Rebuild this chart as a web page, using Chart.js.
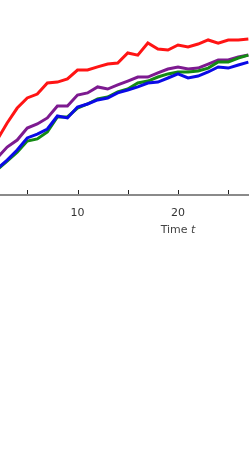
<!DOCTYPE html>
<html>
<head>
<meta charset="utf-8">
<script src="https://cdn.jsdelivr.net/npm/chart.js@4/dist/chart.umd.min.js"></script>
<style>
  html, body { margin: 0; padding: 0; background: #fff; overflow: hidden; }
  #wrap { position: absolute; left: -23px; top: 0; }
</style>
</head>
<body>
<div id="wrap"><canvas id="timeChart" width="402" height="250"></canvas></div>
<script>
// time steps
const times = [2, 3, 4, 5, 6, 7, 8, 9, 10, 11, 12, 13, 14, 15, 16, 17, 18, 19, 20, 21, 22, 23, 24, 25, 26, 27];

// series
const redSeries = [0.278, 0.366, 0.443, 0.495, 0.515, 0.572, 0.577, 0.593, 0.639, 0.639, 0.655, 0.670, 0.675,
    0.727, 0.716, 0.778, 0.747, 0.742, 0.768, 0.758, 0.773, 0.794, 0.778, 0.794, 0.794, 0.799];
const purpleSeries = [0.186, 0.242, 0.278, 0.340, 0.361, 0.392, 0.454, 0.454, 0.510, 0.521, 0.552, 0.541, 0.562,
    0.582, 0.603, 0.603, 0.624, 0.644, 0.655, 0.644, 0.649, 0.670, 0.691, 0.691, 0.706, 0.716];
const greenSeries = [0.124, 0.170, 0.216, 0.273, 0.284, 0.320, 0.397, 0.397, 0.443, 0.464, 0.490, 0.500, 0.526,
    0.541, 0.572, 0.582, 0.603, 0.619, 0.629, 0.629, 0.634, 0.649, 0.680, 0.680, 0.701, 0.716];
const blueSeries = [0.129, 0.175, 0.227, 0.289, 0.309, 0.335, 0.402, 0.392, 0.448, 0.464, 0.485, 0.495, 0.521,
    0.536, 0.552, 0.572, 0.577, 0.598, 0.619, 0.598, 0.608, 0.629, 0.655, 0.649, 0.665, 0.680];

// axis labels
const labeledTicks = [10, 20, 30];
const axisTitle = 'Time ';
const axisVar = 't';

function toPoints(ys) {
    return times.map((t, i) => ({ x: t, y: ys[i] }));
}

// axis line, short inner tick marks and the "Time t" title
const axisDecor = {
    id: 'axisDecor',
    afterDraw(chart) {
        const ctx = chart.ctx;
        const xs = chart.scales.x;
        const area = chart.chartArea;
        ctx.save();
        ctx.strokeStyle = '#8a8a8a';
        ctx.lineWidth = 2;
        ctx.beginPath();
        ctx.moveTo(area.left, area.bottom + 1);
        ctx.lineTo(area.right, area.bottom + 1);
        ctx.stroke();

        ctx.strokeStyle = '#222';
        ctx.lineWidth = 1;
        xs.ticks.forEach(tk => {
            const px = Math.round(xs.getPixelForValue(tk.value)) + 0.5;
            ctx.beginPath();
            ctx.moveTo(px, area.bottom - 4);
            ctx.lineTo(px, area.bottom);
            ctx.stroke();
        });

        // title with italic variable
        ctx.fillStyle = '#444';
        ctx.textBaseline = 'middle';
        ctx.font = '11px "DejaVu Sans"';
        const w1 = ctx.measureText(axisTitle).width;
        ctx.font = 'italic 11px "DejaVu Sans"';
        const w2 = ctx.measureText(axisVar).width;
        const cx = (area.left + area.right) / 2;
        let x0 = cx - (w1 + w2) / 2;
        ctx.font = '11px "DejaVu Sans"';
        ctx.textAlign = 'left';
        ctx.fillText(axisTitle, x0, 230);
        ctx.font = 'italic 11px "DejaVu Sans"';
        ctx.fillText(axisVar, x0 + w1, 230);
        ctx.restore();
    }
};

window.onload = function () {
    const painter = document.getElementById('timeChart').getContext('2d');
    const lineStyle = { borderWidth: 3, pointRadius: 0, tension: 0, fill: false };
    new Chart(painter, {
        type: 'line',
        data: {
            datasets: [
                { label: 'blue', data: toPoints(blueSeries), borderColor: '#0a0ae6', ...lineStyle },
                { label: 'green', data: toPoints(greenSeries), borderColor: '#138a13', ...lineStyle },
                { label: 'purple', data: toPoints(purpleSeries), borderColor: '#7d1a90', ...lineStyle },
                { label: 'red', data: toPoints(redSeries), borderColor: '#ff1414', ...lineStyle },
            ]
        },
        options: {
            responsive: false,
            animation: false,
            layout: { padding: 0 },
            plugins: { legend: { display: false }, tooltip: { enabled: false } },
            scales: {
                x: {
                    type: 'linear',
                    min: 0,
                    max: 40,
                    grid: { display: false },
                    border: { display: false },
                    ticks: {
                        stepSize: 5,
                        autoSkip: false,
                        maxRotation: 0,
                        padding: 5,
                        color: '#333',
                        font: { family: 'DejaVu Sans', size: 11 },
                        callback: v => labeledTicks.includes(v) ? String(v) : ''
                    },
                    afterFit: scale => {
                        scale.height = 56;
                        scale.paddingLeft = 0;
                        scale.paddingRight = 0;
                    }
                },
                y: { display: false, min: 0, max: 1 }
            }
        },
        plugins: [axisDecor]
    });
};
</script>
</body>
</html>
